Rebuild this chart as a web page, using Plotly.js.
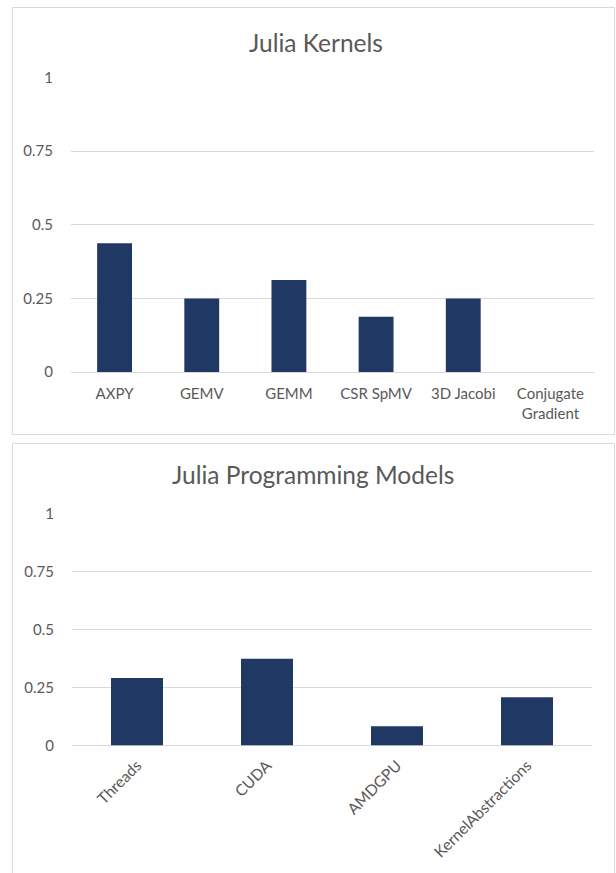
<!DOCTYPE html>
<html>
<head>
<meta charset="utf-8">
<script src="https://cdn.plot.ly/plotly-3.0.1.min.js"></script>
<style>
  html, body { margin: 0; padding: 0; background: #ffffff; }
  #chart { width: 616px; height: 873px; }
</style>
</head>
<body>
<div id="chart"></div>
<script>
// ---- Data ----
const kernelTitle = 'Julia Kernels';
const kernelCats = ['AXPY', 'GEMV', 'GEMM', 'CSR SpMV', '3D Jacobi', 'Conjugate<br>Gradient'];
const kernelVals = [0.4375, 0.25, 0.3125, 0.1875, 0.25, 0];

const modelTitle = 'Julia Programming Models';
const modelCats = ['Threads', 'CUDA', 'AMDGPU', 'KernelAbstractions'];
const modelVals = [0.2917, 0.375, 0.0833, 0.2083];

const yTickVals = [0, 0.25, 0.5, 0.75, 1];
const yTickText = ['0', '0.25', '0.5', '0.75', '1'];

// ---- Styling / layout helpers ----
const W = 616, H = 873;
const px = v => v / W;
const py = v => 1 - v / H;
const FONT = 'Lato, "Open Sans", sans-serif';
const TXT = '#595959';
const GRID = '#d9d9d9';
const BAR = '#203864';

const traces = [
  { type: 'bar', x: kernelCats, y: kernelVals, xaxis: 'x', yaxis: 'y',
    marker: { color: BAR }, hoverinfo: 'skip' },
  { type: 'bar', x: modelCats, y: modelVals, xaxis: 'x2', yaxis: 'y2',
    marker: { color: BAR }, hoverinfo: 'skip' }
];

const yAxisBase = {
  range: [0, 1],
  tickmode: 'array', tickvals: yTickVals, ticktext: yTickText,
  showgrid: true, gridcolor: GRID, gridwidth: 1,
  zeroline: true, zerolinecolor: GRID, zerolinewidth: 1,
  showline: false,
  ticks: 'outside', ticklen: 14, tickcolor: 'rgba(0,0,0,0)',
  tickfont: { family: FONT, size: 15, color: TXT },
  fixedrange: true
};
const xAxisBase = {
  type: 'category',
  showgrid: false, zeroline: false, showline: false,
  ticks: 'outside', ticklen: 8, tickcolor: 'rgba(0,0,0,0)',
  tickfont: { family: FONT, size: 15, color: TXT },
  fixedrange: true
};

const layout = {
  width: W, height: H,
  margin: { l: 0, r: 0, t: 0, b: 0, pad: 0 },
  paper_bgcolor: '#ffffff', plot_bgcolor: '#ffffff',
  showlegend: false,
  bargap: 0.6,
  font: { family: FONT, color: TXT },
  xaxis: Object.assign({}, xAxisBase, { domain: [px(71), px(594)], anchor: 'y', tickangle: 0 }),
  yaxis: Object.assign({}, yAxisBase, { domain: [py(372), py(77.5)], anchor: 'x' }),
  xaxis2: Object.assign({}, xAxisBase, { domain: [px(72), px(592)], anchor: 'y2', tickangle: -45, ticklen: 4,
    tickfont: { family: FONT, size: 15.5, color: TXT } }),
  yaxis2: Object.assign({}, yAxisBase, { domain: [py(745.5), py(514)], anchor: 'x2' }),
  shapes: [
    { type: 'rect', xref: 'paper', yref: 'paper', x0: px(12.5), x1: px(614.5), y0: py(434.5), y1: py(7.5),
      line: { color: GRID, width: 1 }, fillcolor: 'rgba(0,0,0,0)', layer: 'below' },
    { type: 'rect', xref: 'paper', yref: 'paper', x0: px(12.5), x1: px(614.5), y0: py(880), y1: py(443.5),
      line: { color: GRID, width: 1 }, fillcolor: 'rgba(0,0,0,0)', layer: 'below' }
  ],
  annotations: [
    { text: kernelTitle, xref: 'paper', yref: 'paper', x: px(316), y: py(42),
      xanchor: 'center', yanchor: 'middle', showarrow: false,
      font: { family: FONT, size: 24.5, color: TXT } },
    { text: modelTitle, xref: 'paper', yref: 'paper', x: px(313), y: py(475),
      xanchor: 'center', yanchor: 'middle', showarrow: false,
      font: { family: FONT, size: 24.5, color: TXT } }
  ]
};

Plotly.newPlot('chart', traces, layout, { staticPlot: true, displayModeBar: false });
</script>
</body>
</html>
